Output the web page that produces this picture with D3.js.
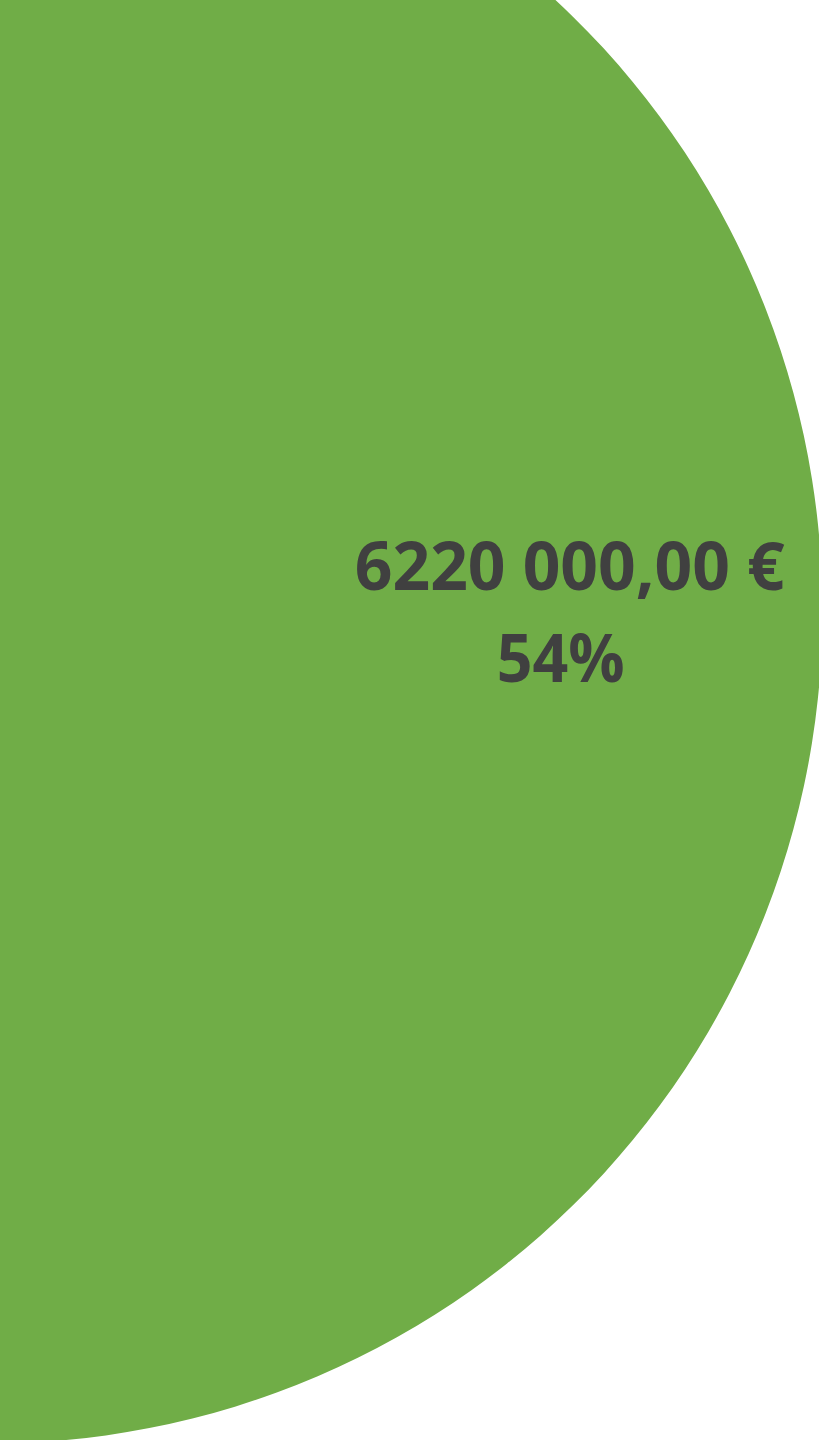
<!DOCTYPE html>
<html>
<head>
<meta charset="utf-8">
<script src="https://cdn.jsdelivr.net/npm/d3@7"></script>
<style>
  html, body { margin: 0; padding: 0; background: #ffffff; overflow: hidden; }
  svg { display: block; }
</style>
</head>
<body>
<div id="chart"></div>
<script>
// Data
const categories = ["Part A", "Part B"];
const values = [6220000, 5300000];
const valueLabels = ["6220 000,00 €", "54%"];
const colors = ["#70AD47", "#4472C4"];

const W = 819, H = 1440;
const cx = -10, cy = 611, R = 832.5;

const svg = d3.select("#chart").append("svg")
  .attr("width", W).attr("height", H);

const total = d3.sum(values);
const span0 = 2 * Math.PI * values[0] / total;

const pie = d3.pie().sort(null)
  .startAngle(Math.PI / 2 - span0 / 2)
  .endAngle(Math.PI / 2 - span0 / 2 + 2 * Math.PI);

const arc = d3.arc().innerRadius(0).outerRadius(R);
const labelArc = d3.arc().innerRadius(R * 0.70).outerRadius(R * 0.70);

const arcs = pie(values);
const g = svg.append("g").attr("transform", `translate(${cx},${cy})`);

g.selectAll("path.slice").data(arcs).enter().append("path")
  .attr("class", "slice")
  .attr("d", arc)
  .attr("fill", (d, i) => colors[i]);

const c = labelArc.centroid(arcs[0]);
const label = g.append("text")
  .attr("font-family", "'Open Sans', 'Noto Sans', sans-serif")
  .attr("font-weight", 700)
  .attr("font-size", 66)
  .attr("fill", "#404040")
  .attr("text-anchor", "middle");

label.append("tspan")
  .attr("x", c[0] - 3).attr("y", c[1] - 21)
  .attr("textLength", 430).attr("lengthAdjust", "spacingAndGlyphs")
  .text(valueLabels[0]);
label.append("tspan")
  .attr("x", c[0] - 12).attr("y", c[1] + 71)
  .attr("textLength", 128).attr("lengthAdjust", "spacingAndGlyphs")
  .text(valueLabels[1]);
</script>
</body>
</html>
